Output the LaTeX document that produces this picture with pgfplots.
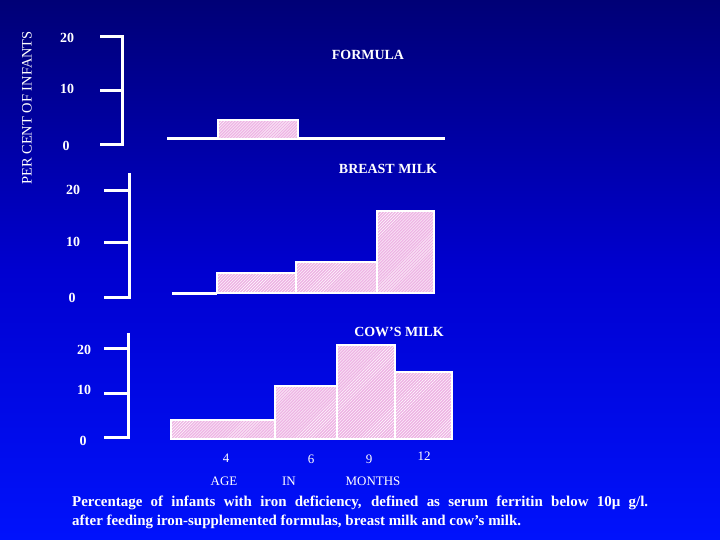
\documentclass[border=0pt]{standalone}
\usepackage{fontspec}
\setmainfont{Liberation Serif}
\usepackage{pgfplots}
\pgfplotsset{compat=1.18}
\usetikzlibrary{patterns}
\definecolor{bgtop}{RGB}{0,0,118}
\definecolor{bgmid}{RGB}{0,0,208}
\definecolor{bgbot}{RGB}{0,18,252}
\definecolor{barpink}{RGB}{238,180,228}
\pgfplotsset{
  panel/.style={scale only axis, width=400bp, xmin=60, xmax=460,
    hide axis, clip=false, anchor=south west},
  bar/.style={draw=white, line width=2.5bp, fill=barpink,
    postaction={pattern=north east lines, pattern color=white}},
  wline/.style={white, line width=3bp, no marks},
}
\begin{document}
\begin{tikzpicture}[x=1bp,y=1bp]
\shade[top color=bgtop, bottom color=bgbot, middle color=bgmid] (0,0) rectangle (720,540);

% ---------- FORMULA ----------
\begin{axis}[panel, ymin=-2, ymax=24, height=140.4bp, at={(60bp,384.2bp)}]
\addplot[wline] coordinates {(100,20) (122,20) (122,0) (100,0)};
\addplot[wline] coordinates {(100,10) (122,10)};
\addplot[wline] coordinates {(167,1.11) (445,1.11)};
\addplot[bar] coordinates {(218,1.11) (218,4.63) (298,4.63) (298,1.11)} -- cycle;
\end{axis}

% ---------- BREAST MILK ----------
\begin{axis}[panel, ymin=-2, ymax=26, height=149.8bp, at={(60bp,231.3bp)}]
\addplot[wline] coordinates {(129,23.36) (129,0) (104,0)};
\addplot[wline] coordinates {(104,20) (129,20)};
\addplot[wline] coordinates {(104,10.3) (129,10.3)};
\addplot[wline] coordinates {(172,0.93) (217,0.93)};
\addplot[bar] coordinates {(217,0.93) (217,4.67) (296,4.67) (296,0.93)} -- cycle;
\addplot[bar] coordinates {(296,0.93) (296,6.73) (377,6.73) (377,0.93)} -- cycle;
\addplot[bar] coordinates {(377,0.93) (377,16.26) (434,16.26) (434,0.93)} -- cycle;
\end{axis}

% ---------- COW'S MILK ----------
\begin{axis}[panel, ymin=-2, ymax=26, height=124.6bp, at={(60bp,93.1bp)}]
\addplot[wline] coordinates {(128,23.6) (128,0) (104,0)};
\addplot[wline] coordinates {(104,20) (128,20)};
\addplot[wline] coordinates {(104,10) (128,10)};
\addplot[bar] coordinates {(171,-0.2) (171,4.04) (275,4.04) (275,-0.2)} -- cycle;
\addplot[bar] coordinates {(275,-0.2) (275,11.69) (337,11.69) (337,-0.2)} -- cycle;
\addplot[bar] coordinates {(337,-0.2) (337,20.9) (395,20.9) (395,-0.2)} -- cycle;
\addplot[bar] coordinates {(395,-0.2) (395,14.83) (452,14.83) (452,-0.2)} -- cycle;
\end{axis}

% ---------- texts ----------
\begin{scope}[every node/.style={text=white, inner sep=0pt}]
\node[rotate=90, font=\fontsize{14.5}{16}\selectfont] at (27,432) {PER CENT OF INFANTS};
\begin{scope}[every node/.append style={font=\fontsize{14}{16}\selectfont\bfseries}]
\node at (67,502) {20}; \node at (67,451) {10}; \node at (66,394) {0};
\node at (73,350) {20}; \node at (73,298) {10}; \node at (72,242) {0};
\node at (84,190) {20}; \node at (84,150) {10}; \node at (83,99) {0};
\node at (368,485) {FORMULA};
\node at (388,371) {BREAST MILK};
\node at (399,208) {COW\char"0027S MILK};
\end{scope}
\begin{scope}[every node/.append style={font=\fontsize{13}{15}\selectfont}]
\node at (226,82) {4}; \node at (311,81) {6}; \node at (369,81) {9}; \node at (424,84) {12};
\node at (224,59) {AGE}; \node at (289,59) {IN}; \node at (373,59) {MONTHS};
\end{scope}
\node[anchor=west, font=\fontsize{15}{17}\selectfont\bfseries] at (72,37)
  {\makebox[576bp][s]{Percentage of infants with iron deficiency, defined as serum ferritin below 10µ g/l.}};
\node[anchor=west, font=\fontsize{15}{17}\selectfont\bfseries] at (72,18)
  {after feeding iron-supplemented formulas, breast milk and cow’s milk.};
\end{scope}
\end{tikzpicture}
\end{document}
